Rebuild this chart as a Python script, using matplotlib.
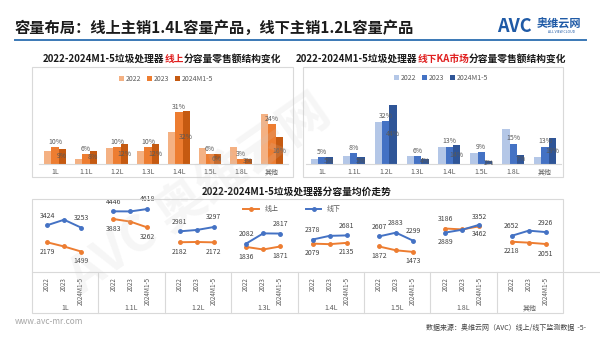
import matplotlib
matplotlib.use('Agg')
import matplotlib.pyplot as plt
import matplotlib.transforms as mtransforms
from matplotlib.patches import Rectangle
from matplotlib.lines import Line2D
import numpy as np

plt.rcParams['font.family'] = ['Noto Sans CJK SC', 'DejaVu Sans']

# ---- data ----
caps = ['1L', '1.1L', '1.2L', '1.3L', '1.4L', '1.5L', '1.8L', '其他']
years = ['2022', '2023', '2024M1-5']

online_2022 = [8, 3, 9.5, 8, 19, 9.5, 10, 30]
online_2023 = [10, 6, 10, 10, 31, 6, 3, 24]
online_2024 = [9, 8, 12, 12, 32, 6, 3, 16]

offline_2022 = [4, 6, 31, 6, 13, 8, 26, 5]
offline_2023 = [5, 8, 32, 6, 13, 9, 15, 13]
offline_2024 = [5, 5, 44, 4, 14, 2, 7, 19]

price_online = [[2179, 1870, 1499], [3883, 3690, 3262], [2182, 2200, 2172], [1836, 1650, 1871],
                [2079, 2040, 2135], [1872, 1590, 1473], [3186, 3120, 3352], [2218, 2150, 2051]]
price_offline = [[3424, 3830, 3253], [4446, 4440, 4618], [2981, 3080, 3297], [2082, 2830, 2817],
                 [2378, 2650, 2681], [2607, 2883, 2299], [2889, 3100, 3462], [2652, 3030, 2926]]

W, H = 600, 337
fig = plt.figure(figsize=(6, 3.37), dpi=100)
fig.patch.set_facecolor('white')


def fx(x):
    return x / W


def fy(y):
    return 1 - y / H


gray = '#595959'
box_c = '#d9d9d9'

# ---- header ----
fig.text(fx(15), fy(28), '容量布局：线上主销1.4L容量产品，线下主销1.2L容量产品',
         fontsize=11, fontweight='bold', color='#1a1a1a', va='center', ha='left')
fig.add_artist(Line2D([fx(15), fx(586)], [fy(40), fy(40)], color='#3a78b5', lw=1.4))
fig.text(fx(497), fy(27), 'AVC', fontsize=13, fontweight='bold', style='italic',
         color='#1f5aa6', va='center', ha='left')
fig.text(fx(537), fy(24), '奥维云网', fontsize=8, fontweight='bold', color='#1f5aa6',
         va='center', ha='left')
fig.text(fx(562), fy(32), 'ALL VIEW CLOUD', fontsize=2.5, color='#1f5aa6', va='center', ha='center')

renderer = fig.canvas.get_renderer()


def rich_title(cx, y, parts, size):
    texts = [fig.text(0, fy(y), s, color=c, fontsize=size, fontweight='bold', va='center', ha='left')
             for s, c in parts]
    widths = [t.get_window_extent(renderer).width for t in texts]
    x = cx - sum(widths) / 2
    for t, w in zip(texts, widths):
        t.set_x(fx(x))
        x += w


dark = '#1a1a1a'
red = '#e02020'
rich_title(162, 59, [('2022-2024M1-5垃圾处理器', dark), ('线上', red), ('分容量零售额结构变化', dark)], 7)
rich_title(431, 59, [('2022-2024M1-5垃圾处理器', dark), ('线下KA市场', red), ('分容量零售额结构变化', dark)], 7)
rich_title(297, 192, [('2022-2024M1-5垃圾处理器分容量均价走势', dark)], 7)

# boxes
for x0, y0, x1, y1 in [(32, 67, 293, 177), (303, 67, 563, 177), (32, 199, 563, 313)]:
    fig.add_artist(Rectangle((fx(x0), fy(y1)), fx(x1) - fx(x0), fy(y0) - fy(y1),
                             transform=fig.transFigure, fill=False, edgecolor=box_c, lw=0.8))


# ---- bar charts ----
def bar_chart(rect, vals, colors, ytop, legend_xy):
    ax = fig.add_axes(rect)
    x = np.arange(len(caps))
    w = 0.23
    bars = []
    for i, (v, c) in enumerate(zip(vals, colors)):
        bars.append(ax.bar(x + (i - 1) * w, v, w, color=c, label=years[i], zorder=2))
    ax.bar_label(bars[1], labels=[f'{v:g}%' for v in vals[1]], fontsize=5, color=gray, padding=1)
    ax.bar_label(bars[2], labels=[f'{v:g}%' for v in vals[2]], fontsize=5, color=gray, label_type='center')
    ax.set_xlim(-0.5, len(caps) - 0.5)
    ax.set_ylim(0, ytop)
    ax.set_xticks(x)
    ax.set_xticklabels(caps, fontsize=5, color=gray)
    ax.tick_params(axis='x', length=0, pad=3)
    ax.set_yticks([])
    for s in ['left', 'right', 'top']:
        ax.spines[s].set_visible(False)
    ax.spines['bottom'].set_color(box_c)
    ax.spines['bottom'].set_linewidth(0.8)
    ax.patch.set_alpha(0)
    ax.legend(loc='center', bbox_to_anchor=legend_xy, bbox_transform=fig.transFigure, ncol=3,
              frameon=False, fontsize=5, handlelength=0.7, handleheight=0.7, handletextpad=0.3,
              columnspacing=0.8, labelcolor=gray)
    return ax


bar_chart([fx(39.5), fy(164), fx(248), 76 / H], [online_2022, online_2023, online_2024],
          ['#f4b183', '#ed7d31', '#c55a11'], 45.6, (fx(166), fy(79)))
bar_chart([fx(306), fy(164), fx(255), 76 / H], [offline_2022, offline_2023, offline_2024],
          ['#b4c7e7', '#4472c4', '#2f5597'], 56.6, (fx(441), fy(78)))

# ---- price line chart ----
ax = fig.add_axes([fx(32), fy(272), fx(531), 73 / H])
ax.set_xlim(0, 24)
ax.set_ylim(0, 5350)
ax.axis('off')
pos = np.array([0.68, 1.45, 2.22])
orange, blue = '#ed7d31', '#4472c4'
swap = {'1.8L'}
extra_mid = {('1.5L', 'off')}
for g, cap in enumerate(caps):
    xs = 3 * g + pos
    for key, vals, c, name in [('on', price_online[g], orange, '线上'), ('off', price_offline[g], blue, '线下')]:
        ax.plot(xs, vals, color=c, lw=1.4, marker='o', ms=2.5, label=name if g == 0 else None, zorder=3)
        above = (key == 'off') != (cap in swap)
        idx = [0, 2] + ([1] if (cap, key) in extra_mid else [])
        for i in idx:
            ax.annotate(f'{vals[i]}', (xs[i], vals[i]), xytext=(0, 4 if above else -4),
                        textcoords='offset points', ha='center', va='bottom' if above else 'top',
                        fontsize=5, color='#404040')
ax.legend(loc='upper center', bbox_to_anchor=(0.49, 1.0), ncol=2, frameon=False, fontsize=5,
          handlelength=2.2, columnspacing=4, labelcolor=gray)

trans = mtransforms.blended_transform_factory(ax.transData, ax.transAxes)
bottom = -(313 - 272) / 73
ax.plot([0, 24], [0, 0], transform=ax.transAxes, color=box_c, lw=0.8, clip_on=False)
for g in range(1, len(caps)):
    ax.plot([3 * g, 3 * g], [0, bottom], transform=trans, color=box_c, lw=0.8, clip_on=False)
for g, cap in enumerate(caps):
    for i, yr in enumerate(years):
        ax.text(3 * g + pos[i], -0.07, yr, transform=trans, rotation=90, ha='center', va='top',
                fontsize=4.5, color=gray)
    ax.text(3 * g + 1.5, -0.5, cap, transform=trans, ha='center', va='center', fontsize=5, color=gray)

# ---- watermark and footer ----
fig.text(fx(200), fy(195), 'AVC 奥维云网', fontsize=36, fontweight='bold', color='#c8c8c8',
         alpha=0.16, rotation=35, ha='center', va='center')
fig.text(fx(15), fy(321), 'www.avc-mr.com', fontsize=6, color='#a6a6a6', va='center', ha='left')
fig.text(fx(586), fy(328), '数据来源：奥维云网（AVC）线上/线下监测数据  -5-', fontsize=5,
         color='#404040', va='center', ha='right')

fig.savefig('out.png', dpi=100)
